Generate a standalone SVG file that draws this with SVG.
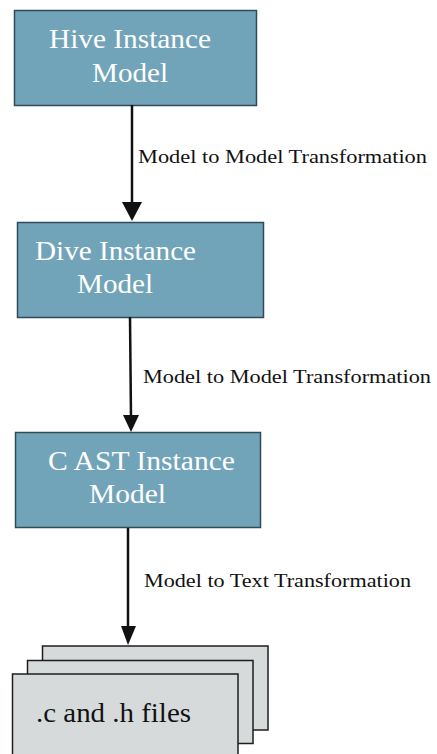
<svg xmlns="http://www.w3.org/2000/svg" width="437" height="754" viewBox="0 0 437 754">
  <style>
    .box { fill: #72a4b9; stroke: #2f4b58; stroke-width: 1.5; }
    .file { fill: #d6dadb; stroke: #1e1e1e; stroke-width: 1.5; }
    text { font-family: 'Liberation Serif', 'DejaVu Serif', serif; }
    .title { font-size: 27px; fill: #ffffff; }
    .ftext { font-size: 27px; fill: #111111; }
    .lbl { font-size: 19px; fill: #111111; }
    .edge { stroke: #111111; stroke-width: 2.5; fill: none; }
  </style>
  <rect width="437" height="754" fill="#ffffff"/>

  <g id="hive">
    <rect class="box" x="14.5" y="10.5" width="242" height="95"/>
    <text class="title" font-family="Liberation Serif, DejaVu Serif, serif" x="49" y="48" textLength="162" lengthAdjust="spacingAndGlyphs">Hive Instance</text>
    <text class="title" font-family="Liberation Serif, DejaVu Serif, serif" x="92" y="82" textLength="76" lengthAdjust="spacingAndGlyphs">Model</text>
  </g>

  <g id="dive">
    <rect class="box" x="17.5" y="222.5" width="246" height="95"/>
    <text class="title" font-family="Liberation Serif, DejaVu Serif, serif" x="35" y="260" textLength="161" lengthAdjust="spacingAndGlyphs">Dive Instance</text>
    <text class="title" font-family="Liberation Serif, DejaVu Serif, serif" x="77" y="293" textLength="76" lengthAdjust="spacingAndGlyphs">Model</text>
  </g>

  <g id="cast">
    <rect class="box" x="15.5" y="432.5" width="245" height="95"/>
    <text class="title" font-family="Liberation Serif, DejaVu Serif, serif" x="48" y="470" textLength="187" lengthAdjust="spacingAndGlyphs">C AST Instance</text>
    <text class="title" font-family="Liberation Serif, DejaVu Serif, serif" x="89" y="503" textLength="77" lengthAdjust="spacingAndGlyphs">Model</text>
  </g>

  <g id="files">
    <rect class="file" x="42.5" y="646" width="225.5" height="84"/>
    <rect class="file" x="27.5" y="660.5" width="225.5" height="83"/>
    <rect class="file" x="12.5" y="674" width="225.5" height="90"/>
    <text class="ftext" font-family="Liberation Serif, DejaVu Serif, serif" x="36" y="722" textLength="155" lengthAdjust="spacingAndGlyphs">.c and .h files</text>
  </g>

  <g id="connectors">
    <g id="edge1">
      <line class="edge" x1="132" y1="105" x2="132" y2="205"/>
      <path d="M122,202 L142,202 L132,221 Z" fill="#111111"/>
      <text class="lbl" font-family="Liberation Serif, DejaVu Serif, serif" x="138" y="163" textLength="289" lengthAdjust="spacingAndGlyphs">Model to Model Transformation</text>
    </g>
    <g id="edge2">
      <line class="edge" x1="130" y1="317" x2="131" y2="418"/>
      <path d="M123,415 L139,415 L131,432 Z" fill="#111111"/>
      <text class="lbl" font-family="Liberation Serif, DejaVu Serif, serif" x="143" y="383" textLength="288" lengthAdjust="spacingAndGlyphs">Model to Model Transformation</text>
    </g>
    <g id="edge3">
      <line class="edge" x1="128" y1="528" x2="128" y2="629"/>
      <path d="M121,626 L136,626 L128,645 Z" fill="#111111"/>
      <text class="lbl" font-family="Liberation Serif, DejaVu Serif, serif" x="144" y="587" textLength="267" lengthAdjust="spacingAndGlyphs">Model to Text Transformation</text>
    </g>
  </g>
</svg>
